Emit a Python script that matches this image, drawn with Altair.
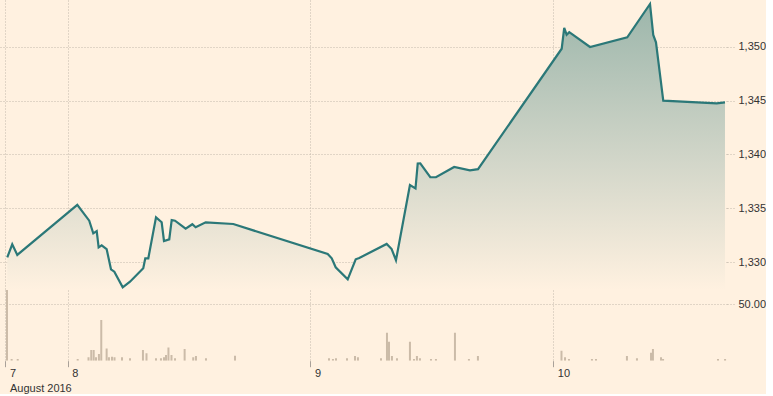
import altair as alt
import pandas as pd

# ---- data (x = hours since the Sunday 18:00 open) ----
price_t = [0.03, 0.52, 1.02, 6.95, 8.13, 8.53, 8.87, 9.06, 9.36, 9.85, 10.28, 10.61,
           11.44, 12.16, 13.47, 13.67, 13.97, 14.73, 15.29, 15.52, 16.04, 16.28, 16.61,
           17.66, 18.32, 18.65, 19.64, 22.37, 31.70, 32.10, 32.49, 33.68, 34.47, 34.82,
           37.53, 38.02, 38.45, 39.83, 40.38, 40.60, 40.85, 41.84, 42.40, 44.20, 45.76,
           46.56, 54.83, 55.08, 55.32, 55.58, 57.63, 61.31, 63.56, 63.88, 64.15, 64.87,
           70.15, 70.97]
price_v = [1330.46, 1331.67, 1330.68, 1335.32, 1333.86, 1332.69, 1332.90, 1331.39,
           1331.58, 1331.23, 1329.35, 1329.13, 1327.68, 1328.20, 1329.44, 1330.37,
           1330.37, 1334.17, 1333.71, 1331.98, 1332.13, 1333.92, 1333.86, 1333.12,
           1333.53, 1333.25, 1333.71, 1333.55, 1330.77, 1330.37, 1329.54, 1328.42,
           1330.28, 1330.40, 1331.70, 1331.23, 1330.19, 1337.17, 1336.86, 1339.17,
           1339.18, 1337.89, 1337.89, 1338.84, 1338.53, 1338.64, 1349.81, 1351.75,
           1351.11, 1351.35, 1349.97, 1350.87, 1353.96, 1351.09, 1350.41, 1344.99,
           1344.75, 1344.84]

vol_t = [0.0, 0.46, 1.06, 6.99, 8.06, 8.33, 8.57, 8.80, 9.09, 9.32, 9.85, 10.08,
         10.38, 10.63, 11.37, 12.16, 13.44, 13.79, 14.73, 15.22, 15.52, 15.72, 15.96,
         16.26, 16.61, 17.56, 18.41, 18.68, 19.67, 22.54,
         31.83, 32.22, 32.52, 33.61, 34.40, 34.69, 36.97, 37.56, 37.76, 38.05, 38.55,
         39.83, 40.23, 40.52, 40.82, 41.91, 42.40, 44.28, 45.66, 46.55,
         54.81, 55.16, 55.55, 57.82, 58.22, 61.28, 62.27, 63.66, 63.85, 64.65, 64.85,
         70.28, 70.98]
vol_v = [62.7, 1.5, 1.5, 1.5, 3.0, 9.5, 9.5, 3.0, 5.9, 36.1, 10.9, 3.0,
         3.5, 3.0, 3.0, 2.1, 9.5, 6.5, 2.1, 2.1, 3.0, 5.0, 11.8,
         5.0, 2.1, 10.3, 3.0, 4.1, 2.1, 4.5,
         2.1, 1.5, 2.1, 2.1, 4.1, 3.0, 2.1, 24.8, 16.8, 4.1, 2.1,
         16.8, 1.5, 4.1, 2.1, 1.5, 1.5, 24.8, 1.5, 4.1,
         8.9, 3.0, 1.5, 1.5, 1.5, 4.1, 2.1, 7.1, 10.3, 3.0, 1.5,
         1.5, 1.5]

day_ticks = [-0.15, 6, 30, 54]
day_labels = ["7", "8", "9", "10"]
month_label = "August 2016"
price_ticks = [1330, 1335, 1340, 1345, 1350]
vol_ticks = [50]

X_DOMAIN = [-0.69, 71.17]
PRICE_DOMAIN = [1327.43, 1354.33]
VOL_DOMAIN = [0, 62.7]

BG = "#fff1e0"
GRID = "#c2b8ad"
LINE = "#2b7878"
VOL = "#cbbba8"
TEXT = "#333333"
FONT = "Liberation Sans"

price_df = pd.DataFrame({"t": price_t, "price": price_v})
vol_df = pd.DataFrame({"t": vol_t, "volume": vol_v})

# label expression built from the tick lists
parts = []
for i, (tk, lb) in enumerate(zip(day_ticks, day_labels)):
    text = f"['{lb}', '{month_label}']" if i == 0 else f"'{lb}'"
    if i < len(day_ticks) - 1:
        mid = (tk + day_ticks[i + 1]) / 2
        parts.append(f"datum.value < {mid} ? {text} : ")
    else:
        parts.append(text)
label_expr = "".join(parts)

x_scale = alt.Scale(domain=X_DOMAIN, nice=False, zero=False, padding=0)

gradient = alt.LinearGradient(
    gradient="linear",
    stops=[alt.GradientStop(color="#9cb6ab", offset=0),
           alt.GradientStop(color="#d2d6c9", offset=0.55),
           alt.GradientStop(color=BG, offset=1)],
    x1=0, x2=0, y1=0, y2=1,
)

x_price = alt.X("t:Q", scale=x_scale,
                axis=alt.Axis(values=day_ticks, grid=True, gridDash=[1, 2], gridColor=GRID,
                              labels=False, ticks=False, domain=False, title=None))
y_price = alt.Y("price:Q", scale=alt.Scale(domain=PRICE_DOMAIN, nice=False, zero=False),
                axis=alt.Axis(orient="right", values=price_ticks, format=",d", grid=True,
                              gridDash=[1, 2], gridColor=GRID, tickSize=7, tickDash=[1, 2],
                              tickColor=GRID, domain=False, title=None, labelPadding=4,
                              labelFontSize=11, labelColor=TEXT, labelFont=FONT))

area = alt.Chart(price_df).mark_area(color=gradient, clip=True).encode(
    x=x_price, y=y_price, y2=alt.datum(PRICE_DOMAIN[0])
)
line = alt.Chart(price_df).mark_line(color=LINE, strokeWidth=2.2, clip=True).encode(
    x="t:Q", y="price:Q"
)
price = (area + line).properties(width=727, height=290)

vol = alt.Chart(vol_df).mark_bar(color=VOL, size=2, clip=True).encode(
    x=alt.X("t:Q", scale=x_scale,
            axis=alt.Axis(values=day_ticks, grid=True, gridDash=[1, 2], gridColor=GRID,
                          labelExpr=label_expr, labelAlign="left", labelOffset=4,
                          labelBaseline="top", labelPadding=1, labelLineHeight=15,
                          labelFlush=False, labelOverlap=False, tickSize=6,
                          tickColor="#a9a199", domain=False, title=None,
                          labelFontSize=11, labelColor=TEXT, labelFont=FONT)),
    y=alt.Y("volume:Q", scale=alt.Scale(domain=VOL_DOMAIN, nice=False, zero=True),
            axis=alt.Axis(orient="right", values=vol_ticks, format=".2f", grid=True,
                          gridDash=[1, 2], gridColor=GRID, tickSize=7, tickDash=[1, 2],
                          tickColor=GRID, domain=False, title=None, labelPadding=4,
                          labelFontSize=11, labelColor=TEXT, labelFont=FONT)),
).properties(width=727, height=70.7)

chart = alt.vconcat(price, vol, spacing=0).properties(
    padding=0, background=BG
).configure_view(strokeWidth=0)

chart.save("out.html", embed_options={"renderer": "svg", "actions": False})
